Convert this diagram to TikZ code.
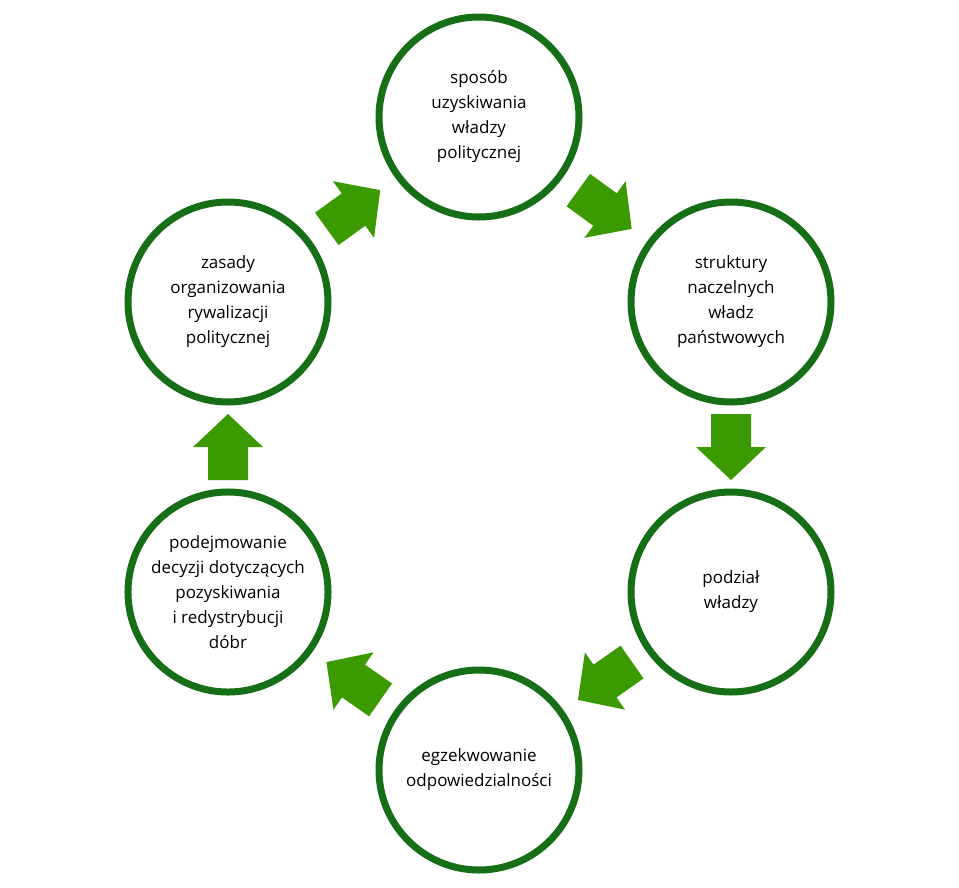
\documentclass[tikz,border=0pt]{standalone}
\usepackage{fontspec}
\setmainfont{Open Sans}
\usetikzlibrary{calc}
\definecolor{ringgreen}{RGB}{22,110,22}
\definecolor{arrowgreen}{RGB}{58,154,0}
\tikzset{
  stage/.style={circle, draw=ringgreen, line width=7pt, minimum size=200pt,
    align=center, font=\fontsize{17}{25}\selectfont},
  blk/.pic={\fill[arrowgreen] (-33,-20) -- (0,-20) -- (0,-35) -- (33,0) -- (0,35) -- (0,20) -- (-33,20) -- cycle;}
}
\begin{document}
\begin{tikzpicture}[x=1pt,y=-1pt]

  \useasboundingbox (0,0) rectangle (959,887);

  % --- stages ---
  \node[stage] (sposob) at (479,117) {sposób\\uzyskiwania\\władzy\\politycznej};
  \node[stage] (struktury) at (731,302) {struktury\\naczelnych\\władz\\państwowych};
  \node[stage] (podzial) at (731,592) {podział\\władzy};
  \node[stage] (egzek) at (479,770) {egzekwowanie\\odpowiedzialności};
  \node[stage] (decyzje) at (228,592) {podejmowanie\\decyzji dotyczących\\pozyskiwania\\i redystrybucji\\dóbr};
  \node[stage] (zasady) at (228,302) {zasady\\organizowania\\rywalizacji\\politycznej};

  % --- arrows between stages ---
  \foreach \from/\to/\ang in {sposob/struktury/-36, struktury/podzial/-90,
      podzial/egzek/-145, egzek/decyzje/145, decyzje/zasady/90, zasady/sposob/36}
    \pic[rotate=\ang] at ($(\from)!0.5!(\to)$) {blk};

\end{tikzpicture}
\end{document}
